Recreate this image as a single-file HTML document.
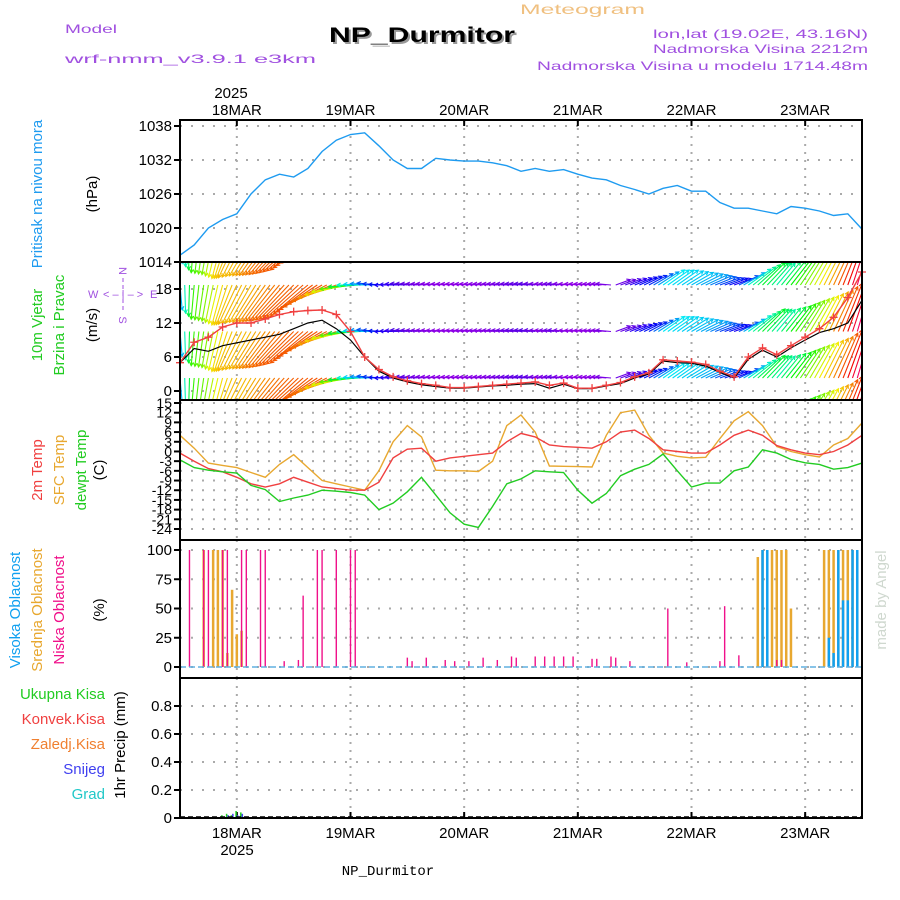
<!DOCTYPE html>
<html><head><meta charset="utf-8"><style>
html,body{margin:0;padding:0;background:#fff;}
svg{display:block;font-family:"Liberation Sans",sans-serif;}
</style></head><body>
<svg id="chart" width="900" height="900" viewBox="0 0 900 900" xmlns="http://www.w3.org/2000/svg">
<defs>
<clipPath id="c2"><rect x="180" y="262" width="682" height="138"/></clipPath>
</defs>
<g>
<text x="65" y="33" fill="#a050e0" font-size="12" textLength="52" lengthAdjust="spacingAndGlyphs">Model</text>
<text x="65" y="63" fill="#a050e0" font-size="12" textLength="251" lengthAdjust="spacingAndGlyphs">wrf-nmm_v3.9.1 e3km</text>
<text x="331" y="44" fill="#999" font-size="21" font-weight="bold" textLength="186" lengthAdjust="spacingAndGlyphs">NP_Durmitor</text>
<text x="329" y="42" fill="#000" font-size="21" font-weight="bold" textLength="186" lengthAdjust="spacingAndGlyphs">NP_Durmitor</text>
<text x="520" y="14" fill="#f0c080" font-size="14" textLength="125" lengthAdjust="spacingAndGlyphs">Meteogram</text>
<text x="653" y="38" fill="#a050e0" font-size="12" textLength="215" lengthAdjust="spacingAndGlyphs">lon,lat (19.02E, 43.16N)</text>
<text x="653" y="53" fill="#a050e0" font-size="12" textLength="215" lengthAdjust="spacingAndGlyphs">Nadmorska Visina 2212m</text>
<text x="537" y="70" fill="#a050e0" font-size="12" textLength="331" lengthAdjust="spacingAndGlyphs">Nadmorska Visina u modelu 1714.48m</text>
</g>
<g id="axes"></g>
<g id="marks"></g>
</svg>
<script>
// ---- data (3-hourly from 17MAR 12UTC) ----
const hoursStep = 3;
const days = ["18MAR","19MAR","20MAR","21MAR","22MAR","23MAR"];
const pressure = [1015.2,1017,1020,1021.5,1022.5,1026,1028.5,1029.5,1029,1030.5,1033.5,1035.5,1036.5,1036.8,1034.5,1032,1030.5,1030.5,1032.3,1032,1031.8,1031.8,1031.5,1031,1030,1030.5,1030,1030.3,1029.5,1028.8,1028.5,1027.5,1026.8,1026,1027,1027.5,1026.5,1026.5,1024.5,1023.5,1023.5,1023,1022.5,1023.8,1023.5,1023,1022.2,1022.5,1019.8];
const windSpeed = [5,8.6,9.5,11.3,12,12,12.7,13.5,14,14.2,14.3,13.5,10.5,6,3.8,2.5,1.8,1.3,1,0.6,0.6,0.8,1,1.2,1.4,1.6,1,1.4,0.5,0.5,1,1.5,2.5,3.2,5.5,5.3,5.1,4.7,3.5,2.5,6,7.6,6.4,8,9.5,11,13,16.5,21];
const windMean = [5,7.5,7,8,8.5,9,9.5,10,11,12,12.5,11,9,6,3.5,2.3,1.6,1.1,0.8,0.5,0.5,0.7,0.9,1,1.2,1.3,0.5,1.2,0.4,0.4,0.9,1.3,2.3,3,5.3,5,4.9,4.4,3.3,2.3,5.6,7.2,6,7.6,9,10.3,11,12,16];
const windDir = [175,185,190,195,205,210,215,220,225,230,240,250,260,270,275,270,275,275,275,275,275,275,275,275,275,275,275,275,275,275,275,70,68,62,55,55,60,65,70,70,55,45,40,38,32,28,25,20,15];
const temp2m = [-0.5,-3,-5.3,-6.3,-8,-10,-11,-10,-8,-9.5,-11,-11.5,-12,-12,-9.5,-2,0.7,1,-3,-2,-1.5,-1,-0.5,3,5.6,4.5,2,1.5,1.3,1,3,6,6.6,4,0.5,0,-0.5,-0.5,2,5,6.6,5,1.8,0.5,-0.5,-1,0,2,5];
const tempSfc = [5,1,-3.6,-4.3,-5,-6.5,-8,-4,-1,-5,-9,-10,-11,-12,-6,3,8,4.5,-5.8,-6,-6,-6.2,-3,8,11.3,6,-4.5,-4.6,-4.7,-4.8,5,12,12.8,5,-0.5,-1.5,-2,-1.8,4,9.5,12.3,8,1.5,0,-1,-1.7,2,4,8.8];
const dewpt = [-2.6,-5,-5.8,-6.3,-6.7,-10.5,-11.8,-15.5,-14.4,-13.5,-12,-12.3,-12.7,-13.5,-18,-16,-12.5,-8,-13.5,-19,-22.5,-23.5,-17,-10,-8.5,-6,-6.3,-6.5,-12,-16,-13,-7.5,-5.5,-4,-0.8,-6,-11,-9.8,-9.8,-6,-4.8,0.5,-0.5,-2.5,-3.5,-4,-5.5,-5,-3.6];
// cloud bars: hour index + percent
const lowHours = [2,5,6,9,10,13,14,17,18,22,25,26,29,30,33,36,37,48,49,52,56,58,61,64,67,70,71,75,77,79,81,83,87,88,91,92,95,103,107,114,115,118,126,127];
const lowVals  = [100,100,100,100,100,100,100,100,100,5,6,61,100,100,100,100,100,8,5,8,6,5,5,8,6,9,8,9,9,9,9,9,7,7,9,8,5,50,4,5,52,10,6,6];
const midHours = [5,7,8,9,10,11,12,13,122,123,124,125,126,127,128,129,136,137,138,139,140,141,142,143];
const midVals  = [100,100,100,100,12,66,28,31,94,100,50,100,100,100,100,50,100,100,100,100,100,100,100,94];
const highHours = [123,124,137,138,139,140,141,142,143];
const highVals  = [100,100,25,12,100,57,57,100,100];
const precipHours = [9,10,11,12,13];
const precipVals  = [0.02,0.03,0.02,0.05,0.04];
const snowVals    = [0.01,0.02,0.03,0.02,0.03];

// ---- scales ----
const X0=180, X1=862, HMAX=144;
const xh = h => X0 + h*(X1-X0)/HMAX;
const yP = v => 262 - (v-1014)*136/24;
const yW = v => 391 - v*34/6;
const yT = v => 403 + (15-v)*126/39;
const yC = v => 667 - v*1.17;
const yR = v => 818 - v*140;
const NS="http://www.w3.org/2000/svg";
const axes=document.getElementById('axes'), marks=document.getElementById('marks');
function mk(tag, attrs, parent){const e=document.createElementNS(NS,tag);for(const k in attrs)e.setAttribute(k,attrs[k]);(parent||marks).appendChild(e);return e;}
function txt(x,y,s,attrs,parent){const e=mk('text',Object.assign({x:x,y:y},attrs),parent||axes);e.textContent=s;return e;}

const panels=[[120,262],[262,400],[400,540],[540,678],[678,818]];
panels.forEach((p,i)=>{
  days.forEach((d,j)=>{
    const x=xh(12+24*j);
    const g=mk('line',{x1:x,x2:x,y1:p[0],y2:p[1],stroke:'#aaa','stroke-width':2,'stroke-dasharray':'2,6'},axes);
    
    
  });
});
function hgrid(vals, yf, labels, fs){
  vals.forEach((v,i)=>{
    const y=yf(v);
    const g=mk('line',{x1:X0,x2:X1,y1:y,y2:y,stroke:'#aaa','stroke-width':2,'stroke-dasharray':'2,9'},axes);
    
    
    mk('line',{x1:X0-6,x2:X0,y1:y,y2:y,stroke:'#000','stroke-width':2},axes);
    const t=txt(X0-8,y+5,labels[i],{'font-size':fs||15,'text-anchor':'end',fill:'#000'});
    
    
  });
}
const pTicks=[1014,1020,1026,1032,1038];
hgrid(pTicks,yP,pTicks.map(String));
const wTicks=[0,6,12,18];
hgrid(wTicks,yW,wTicks.map(String));
const tTicks=[15,12,9,6,3,0,-3,-6,-9,-12,-15,-18,-21,-24];
hgrid(tTicks,yT,tTicks.map(String),14);
const cTicks=[0,25,50,75,100];
hgrid(cTicks,yC,cTicks.map(String));
const rTicks=[0,0.2,0.4,0.6,0.8];
hgrid(rTicks,yR,['0','0.2','0.4','0.6','0.8']);

days.forEach((d,j)=>{
  const x=xh(12+24*j);
  let t=txt(x,115,d,{'font-size':15,'text-anchor':'middle'});  
  t=txt(x,838,d,{'font-size':15,'text-anchor':'middle'});  
  mk('line',{x1:x,x2:x,y1:120,y2:126,stroke:'#000','stroke-width':2},axes);
  mk('line',{x1:x,x2:x,y1:812,y2:818,stroke:'#000','stroke-width':2},axes);
});
txt(231,98,'2025',{'font-size':15,'text-anchor':'middle',});
txt(237,855,'2025',{'font-size':15,'text-anchor':'middle',});
txt(388,875,'NP_Durmitor',{'font-size':14,'text-anchor':'middle','font-family':'Liberation Mono, monospace',});

function line(arr,yf,color,name,w){
  const d=arr.map((v,i)=>(i?'L':'M')+xh(i*hoursStep).toFixed(1)+','+yf(v).toFixed(1)).join('');
  const p=mk('path',{d:d,fill:'none',stroke:color,'stroke-width':w||1.4});
  
  
  return p;
}
line(pressure,yP,'#1e9bf0','pressure-line');

// ---- panel 2 wind ----
function hueFor(s){
  const stops=[[0,280],[1,275],[3,235],[5,195],[8,120],[11,58],[13,32],[16,5],[21,-35]];
  for(let i=1;i<stops.length;i++){if(s<=stops[i][0]){const a=stops[i-1],b=stops[i];return a[1]+(b[1]-a[1])*(s-a[0])/(b[0]-a[0]);}}
  return -35;
}
const wg=mk('g',{'clip-path':'url(#c2)'});


const rows=[238.5,285,331.5,378,424.5];
for(let i=0;i<windSpeed.length;i++){
  const steps = i<windSpeed.length-1?3:1;
  for(let s=0;s<steps;s++){
    const f=s/3, j=Math.min(i+1,windSpeed.length-1);
    const sp=windSpeed[i]+(windSpeed[j]-windSpeed[i])*f;
    const dd=((windDir[j]-windDir[i]+540)%360)-180;
    const dr=Math.abs(dd)>90 ? (f<0.5?windDir[i]:windDir[j]) : windDir[i]+dd*f;
    const x=xh((i+f)*hoursStep);
    const L=12+2.6*sp, a=dr*Math.PI/180;
    const col='hsl('+((hueFor(sp)+360)%360)+',100%,'+(sp<2?'45%':'48%')+')';
    rows.forEach(ry=>{
      const x2=x+L*Math.sin(a), y2=ry-L*Math.cos(a);
      const ar=mk('path',{d:'M'+x.toFixed(1)+','+ry+'L'+x2.toFixed(1)+','+y2.toFixed(1)+
        'M'+(x2-4*Math.sin(a-0.5)).toFixed(1)+','+(y2+4*Math.cos(a-0.5)).toFixed(1)+'L'+x2.toFixed(1)+','+y2.toFixed(1)+
        'L'+(x2-4*Math.sin(a+0.5)).toFixed(1)+','+(y2+4*Math.cos(a+0.5)).toFixed(1),
        stroke:col,'stroke-width':1.1,fill:'none'},wg);
      
      
    });
  }
}
line(windMean,yW,'#000','wind-mean-line',1.2);
line(windSpeed,yW,'#f04040','wind-speed-line',1.4);
windSpeed.forEach((v,i)=>{
  const x=xh(i*hoursStep), y=yW(v);
  const m=mk('path',{d:`M${x-4},${y}h8M${x},${y-4}v8`,stroke:'#f04040','stroke-width':1.3});
  
  
});

// ---- panel 3 temps ----
line(tempSfc,yT,'#e8a830','sfc-temp-line');
line(temp2m,yT,'#f04040','temp-2m-line');
line(dewpt,yT,'#22cc22','dewpoint-line');

// ---- panel 4 clouds ----
function bars(hours,vals,color,w,name){
  hours.forEach((h,i)=>{
    const x=xh(h), y=yC(vals[i]);
    const b=mk('rect',{x:x-w/2,y:y,width:w,height:667-y,fill:color});
    
    
  });
}
bars(midHours,midVals,'#e8a830',2.5,'mid-cloud-bar');
bars(highHours,highVals,'#10a0f0',2.5,'high-cloud-bar');
bars(lowHours,lowVals,'#f0108a',1.4,'low-cloud-bar');
mk('line',{x1:X0,x2:X1,y1:667,y2:667,stroke:'#60b0e0','stroke-width':1.5,'stroke-dasharray':'6,3'});

// ---- panel 5 precip ----
precipHours.forEach((h,i)=>{
  let b=mk('rect',{x:xh(h)-1.5,y:yR(precipVals[i]),width:1.5,height:precipVals[i]*140,fill:'#22cc22'});
   
  b=mk('rect',{x:xh(h),y:yR(snowVals[i]),width:1.5,height:snowVals[i]*140,fill:'#4040f0'});
   
});
mk('line',{x1:X0,x2:X1,y1:817,y2:817,stroke:'#000','stroke-width':1.5,'stroke-dasharray':'5,3'});

panels.forEach(p=>{
  const r=mk('rect',{x:X0,y:p[0],width:X1-X0,height:p[1]-p[0],fill:'none',stroke:'#000','stroke-width':2},marks);
  
  
});

function rot(x,y,s,color,fs,name){
  const t=txt(x,y,s,{'font-size':fs||15,fill:color,'text-anchor':'middle',transform:`rotate(-90 ${x} ${y})`});
  
  
}
rot(42,194,'Pritisak na nivou mora','#1e9bf0',15,'pressure-title');
rot(97,194,'(hPa)','#000',15,'pressure-unit');
rot(42,325,'10m Vjetar','#22cc22',15,'wind-title');
rot(64,325,'Brzina i Pravac','#22cc22',15,'wind-subtitle');
rot(97,325,'(m/s)','#000',15,'wind-unit');
rot(42,470,'2m Temp','#f04040',15,'temp2m-title');
rot(64,470,'SFC Temp','#e8a830',15,'sfc-title');
rot(86,470,'dewpt Temp','#22cc22',15,'dewpt-title');
rot(104,470,'(C)','#000',15,'temp-unit');
rot(20,610,'Visoka Oblacnost','#10a0f0',15,'high-cloud-title');
rot(42,610,'Srednja Oblacnost','#e8a830',15,'mid-cloud-title');
rot(64,610,'Niska Oblacnost','#f0108a',15,'low-cloud-title');
rot(104,610,'(%)','#000',15,'cloud-unit');
rot(125,745,'1hr Precip (mm)','#000',15,'precip-title');
rot(886,600,'made by Angel','#cfd8cf',15,'credit');
const leg=[['Ukupna Kisa','#22cc22',699],['Konvek.Kisa','#f04040',724],['Zaledj.Kisa','#f08030',749],['Snijeg','#4040f0',774],['Grad','#20c8c8',799]];
leg.forEach(l=>{const t=txt(105,l[2],l[0],{'font-size':15,fill:l[1],'text-anchor':'end'});});
const cg=mk('g',{fill:'#a050e0','font-size':11},axes);
 
txt(88,298,'W',{fill:'#a050e0','font-size':11},cg);
txt(150,298,'E',{fill:'#a050e0','font-size':11},cg);
txt(103,298,'< – | – >',{fill:'#a050e0','font-size':11},cg);
txt(123,275,'N',{fill:'#a050e0','font-size':11,'text-anchor':'middle',transform:'rotate(90 123 271)'},cg);
txt(123,324,'S',{fill:'#a050e0','font-size':11,'text-anchor':'middle',transform:'rotate(90 123 320)'},cg);
mk('line',{x1:123,x2:123,y1:278,y2:313,stroke:'#a050e0','stroke-dasharray':'4,3'},cg);
</script>
</body></html>
